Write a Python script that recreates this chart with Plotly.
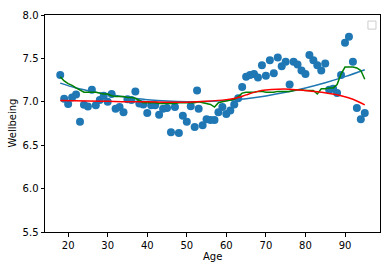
import plotly.graph_objects as go

# Scatter data: mean wellbeing per age
ages = [18, 19, 20, 21, 22, 23, 24, 25, 26, 27, 28, 29, 30, 31, 32, 33, 34, 35, 36, 37,
        38, 39, 40, 41, 42, 43, 44, 45, 46, 47, 48, 49, 50, 51, 52, 52.6, 53, 54, 55, 56,
        57, 58, 59, 60, 61, 62, 63, 64, 65, 66, 67, 68, 69, 70, 71, 72, 73, 74, 75, 76,
        77, 78, 79, 80, 81, 82, 83, 84, 85, 86, 87, 88, 89, 90, 91, 92, 93, 94, 95]
wellbeing = [7.31, 7.035, 6.975, 7.05, 7.085, 6.77, 6.965, 6.945, 7.14, 6.96, 7.02, 7.07, 7.00, 7.09, 6.92, 6.94, 6.88, 7.03, 7.02, 7.12,
             6.98, 6.97, 6.87, 6.96, 6.96, 6.85, 6.92, 6.93, 6.65, 6.94, 6.64, 6.84, 6.77, 6.95, 6.71, 7.13, 6.92, 6.73, 6.80, 6.79,
             6.79, 6.88, 6.94, 6.86, 6.90, 6.97, 7.04, 7.17, 7.29, 7.31, 7.32, 7.28, 7.42, 7.30, 7.48, 7.33, 7.51, 7.41, 7.46, 7.20,
             7.46, 7.43, 7.36, 7.32, 7.54, 7.48, 7.42, 7.36, 7.44, 7.14, 7.15, 7.10, 7.31, 7.68, 7.75, 7.46, 6.93, 6.80, 6.87]

# Blue smooth fit line
fit_ages = [18, 22, 26, 30, 35, 40, 45, 50, 55, 60, 65, 70, 75, 80, 85, 90, 95]
fit_vals = [7.215, 7.16, 7.12, 7.088, 7.05, 7.025, 7.008, 7.0, 7.003, 7.015, 7.036, 7.068, 7.109, 7.16, 7.22, 7.29, 7.37]

# Red smooth line
red_ages = [18, 25, 30, 35, 40, 45, 50, 55, 60, 63, 65, 68, 70, 73, 76, 80, 83, 86, 89, 92, 95]
red_vals = [7.015, 7.01, 7.005, 7.0, 7.0, 6.995, 6.995, 7.005, 7.025, 7.05, 7.08, 7.12, 7.135, 7.145, 7.145, 7.13, 7.115, 7.095, 7.07, 7.03, 6.965]

# Green rolling line
roll_ages = list(range(18, 96))
roll_vals = [7.29, 7.24, 7.21, 7.19, 7.16, 7.13, 7.11, 7.11, 7.11, 7.11, 7.10, 7.09, 7.09, 7.07, 7.06, 7.06, 7.06, 7.05, 7.05, 7.04,
             7.01, 6.99, 6.99, 6.99, 6.99, 6.98, 6.98, 6.98, 6.98, 6.98, 6.99, 6.99, 6.99, 6.99, 6.99, 7.00, 6.99, 6.98, 6.97, 6.94,
             6.99, 7.00, 7.01, 7.02, 7.03, 7.06, 7.10, 7.11, 7.11, 7.11, 7.12, 7.12, 7.11, 7.11, 7.11, 7.12, 7.12, 7.12, 7.12, 7.13,
             7.14, 7.14, 7.13, 7.13, 7.13, 7.09, 7.15, 7.15, 7.16, 7.16, 7.20, 7.32, 7.40, 7.40, 7.40, 7.39, 7.36, 7.26]

x_ticks = [20, 30, 40, 50, 60, 70, 80, 90]
y_ticks = [5.5, 6.0, 6.5, 7.0, 7.5, 8.0]

fig = go.Figure()
fig.add_trace(go.Scatter(x=ages, y=wellbeing, mode="markers",
                         marker=dict(color="#1f77b4", size=8, line=dict(width=0))))
fig.add_trace(go.Scatter(x=fit_ages, y=fit_vals, mode="lines",
                         line=dict(color="#1f77b4", width=1.5, shape="spline")))
fig.add_trace(go.Scatter(x=roll_ages, y=roll_vals, mode="lines",
                         line=dict(color="green", width=1.5)))
fig.add_trace(go.Scatter(x=red_ages, y=red_vals, mode="lines",
                         line=dict(color="red", width=1.5, shape="spline")))

axis_common = dict(showline=True, linecolor="black", linewidth=1, mirror=True,
                   ticks="outside", ticklen=3.5, tickwidth=1, tickcolor="black",
                   showgrid=False, zeroline=False, automargin=False,
                   tickfont=dict(family="DejaVu Sans", size=10, color="black"))

fig.update_layout(
    width=386, height=268,
    margin=dict(l=45, r=6, t=15, b=36),
    plot_bgcolor="white", paper_bgcolor="white",
    showlegend=False,
    font=dict(family="DejaVu Sans", size=10, color="black"),
    xaxis=dict(range=[14.15, 98.85], tickvals=x_ticks, **axis_common),
    yaxis=dict(range=[5.5, 8.0], tickvals=y_ticks, tickformat=".1f", **axis_common),
    annotations=[
        dict(text="Age", xref="paper", yref="paper", x=0.5, y=-0.115,
             xanchor="center", yanchor="middle", showarrow=False,
             font=dict(family="DejaVu Sans", size=10, color="black")),
        dict(text="Wellbeing", xref="paper", yref="paper", x=-0.0985, y=0.5,
             xanchor="center", yanchor="middle", textangle=-90, showarrow=False,
             font=dict(family="DejaVu Sans", size=10, color="black")),
    ],
    shapes=[dict(type="rect", xref="paper", yref="paper",
                 x0=0.964, x1=0.988, y0=0.935, y1=0.972,
                 line=dict(color="#cccccc", width=1), fillcolor="white")],
)

fig.write_html("out.html", config={"displayModeBar": False},
               post_script="document.body.style.margin='0';document.body.style.overflow='hidden';")
